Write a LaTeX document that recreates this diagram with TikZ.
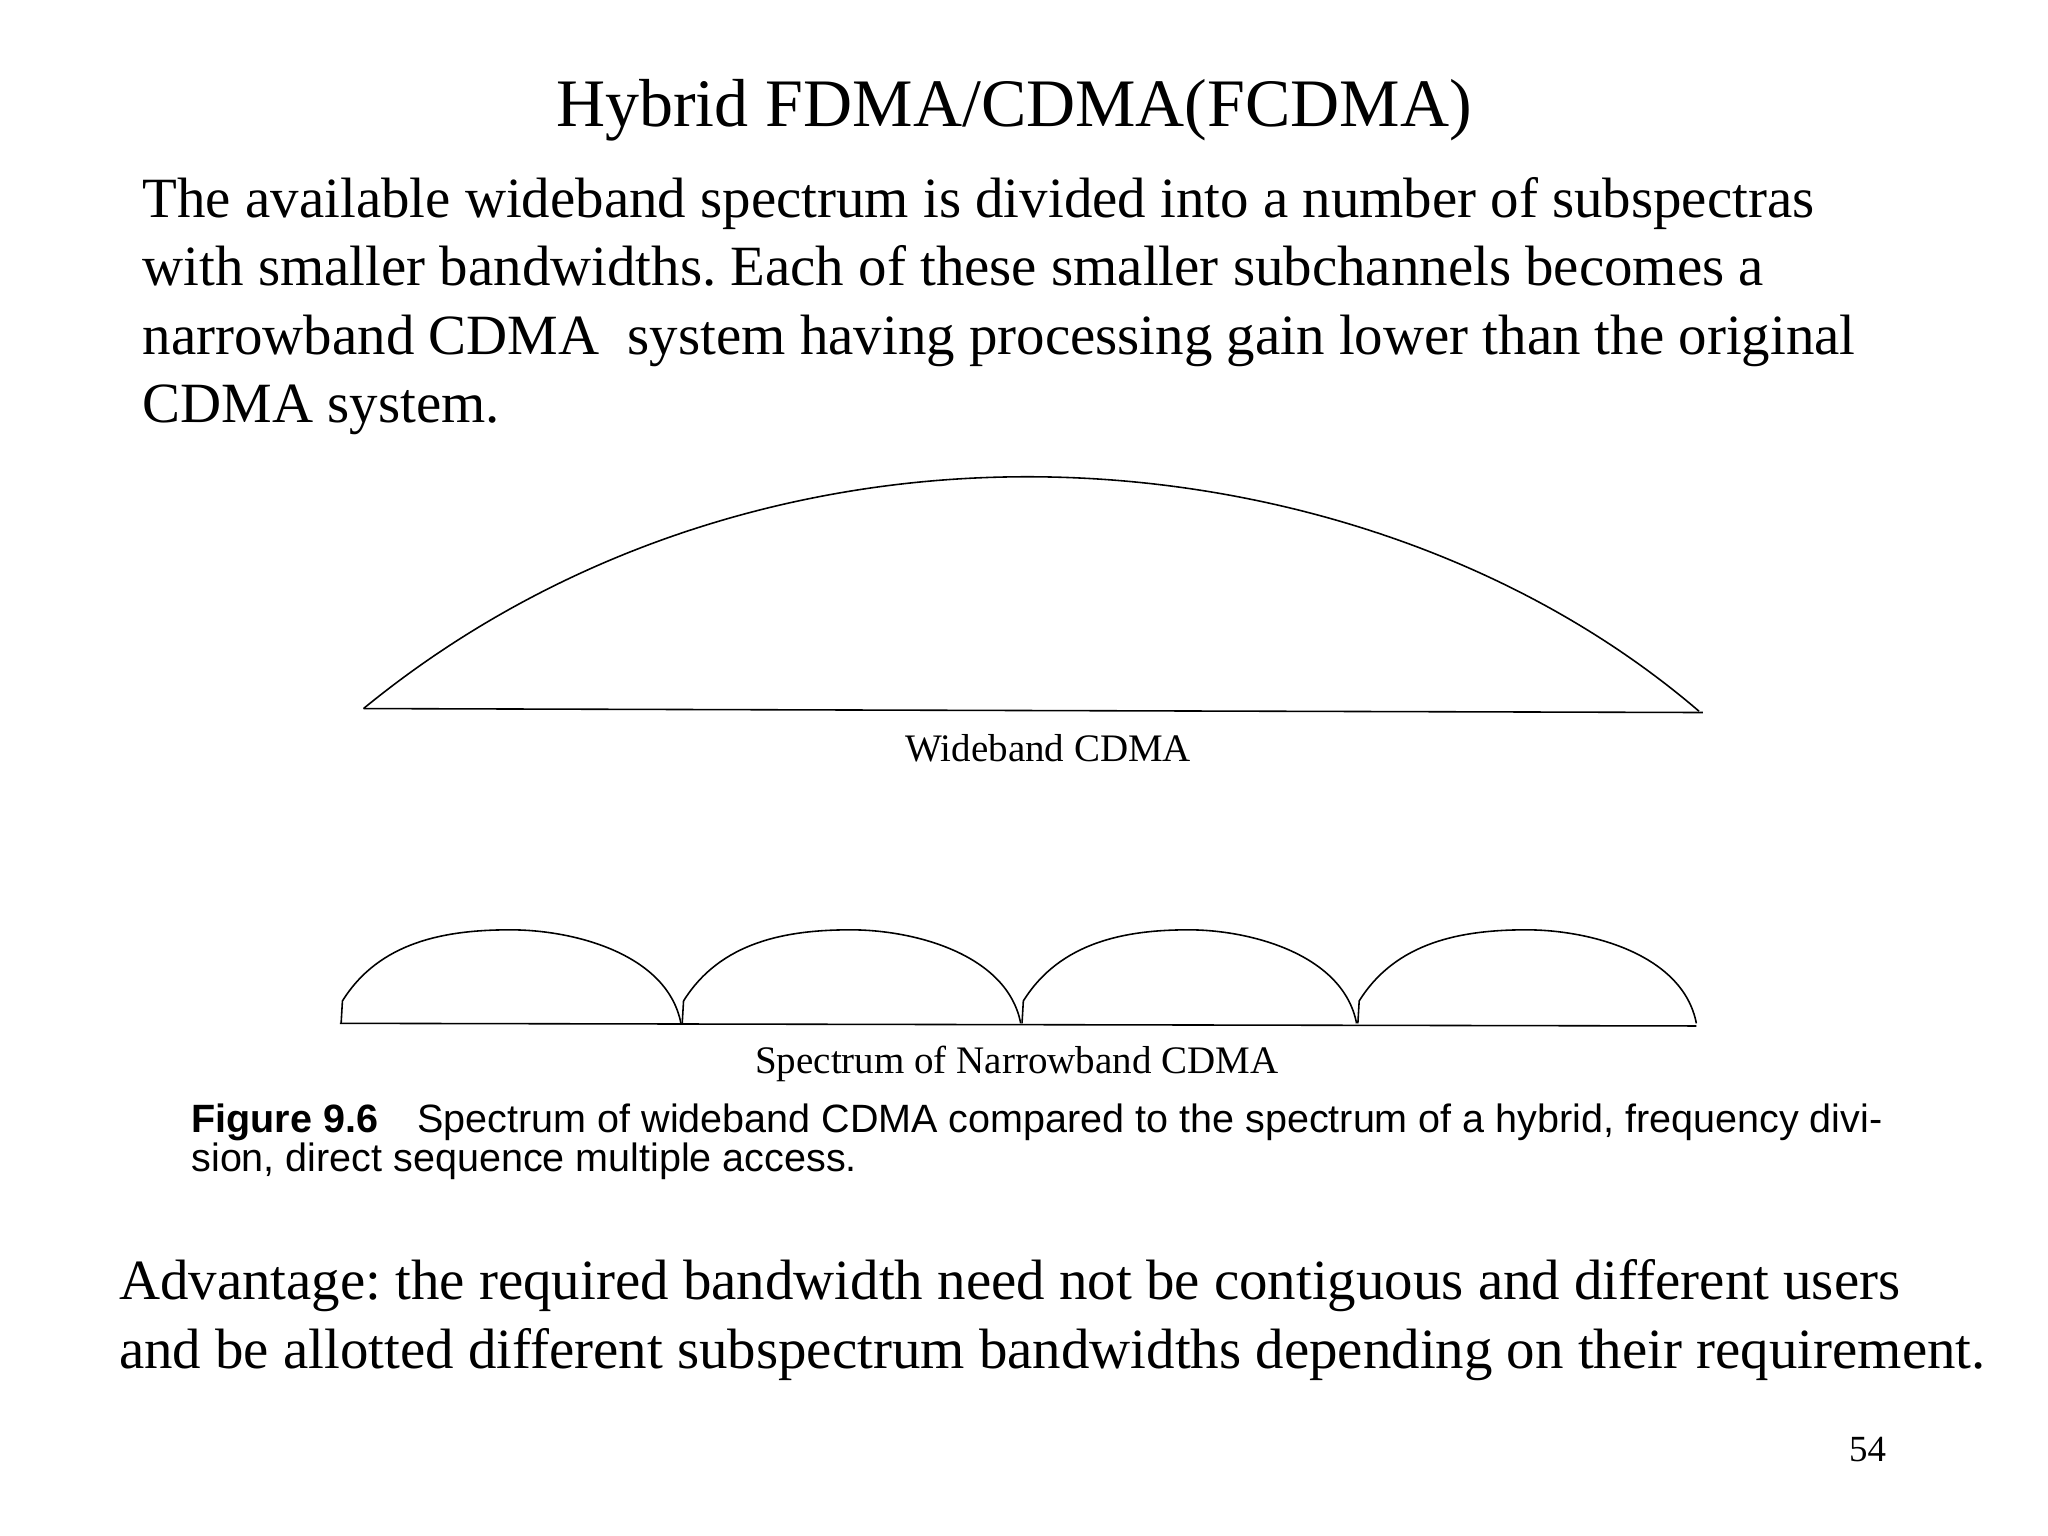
\documentclass[tikz,border=0pt]{standalone}
\usepackage{fontspec}
\setmainfont{Liberation Serif}
\newfontfamily\capfont{Liberation Sans}
\frenchspacing
\begin{document}
\begin{tikzpicture}[x=0.5pt,y=-0.5pt,
  body/.style={anchor=north west,inner sep=0,align=left,font=\fontsize{21.6}{26}\selectfont},
  curve/.style={line width=0.6pt}]
\useasboundingbox (0,0) rectangle (1555,1166);
\node[anchor=base,inner sep=0,font=\fontsize{25.8}{30}\selectfont] (title) at (770,96) {Hybrid FDMA/CDMA(FCDMA)};
\node[body] (para) at (108,134) {The available wideband spectrum is divided into a number of subspectras\\with smaller bandwidths. Each of these smaller subchannels becomes a\\narrowband CDMA\ \ system having processing gain lower than the original\\CDMA system.};
% wideband
\draw[curve] (276,538) .. controls (420,420) and (600,362) .. (780,362) .. controls (960,362) and (1150,420) .. (1290,540);
\draw[curve] (276,538) -- (1293,541);
\node[inner sep=0,font=\fontsize{14.8}{17}\selectfont] (wl) at (796,568) {Wideband CDMA};
% narrowband
\foreach \a/\b in {258/517,517/775,775/1030,1030/1288}{
  \draw[curve] (\a+1,777) -- (\a+2,760) .. controls (\a+30,715) and (\a+80,706) .. ({(\a+\b)/2},706) .. controls (\b-80,706) and (\b-10,725) .. (\b,777);
}
\draw[curve] (258,777) -- (1288,779);
\node[inner sep=0,font=\fontsize{14.8}{17}\selectfont] (nl) at (772,808) {Spectrum of Narrowband CDMA};
\node[anchor=north west,inner sep=0,align=left,font=\capfont\fontsize{15}{14.5}\selectfont] (cap) at (145,838) {\textbf{Figure 9.6}\quad Spectrum of wideband CDMA compared to the spectrum of a hybrid, frequency divi-\\sion, direct sequence multiple access.};
\node[body] (adv) at (90,956) {Advantage: the required bandwidth need not be contiguous and different users\\and be allotted different subspectrum bandwidths depending on their requirement.};
\node[anchor=base,inner sep=0,font=\fontsize{14}{16}\selectfont] (pg) at (1418,1110) {54};
\end{tikzpicture}
\end{document}
